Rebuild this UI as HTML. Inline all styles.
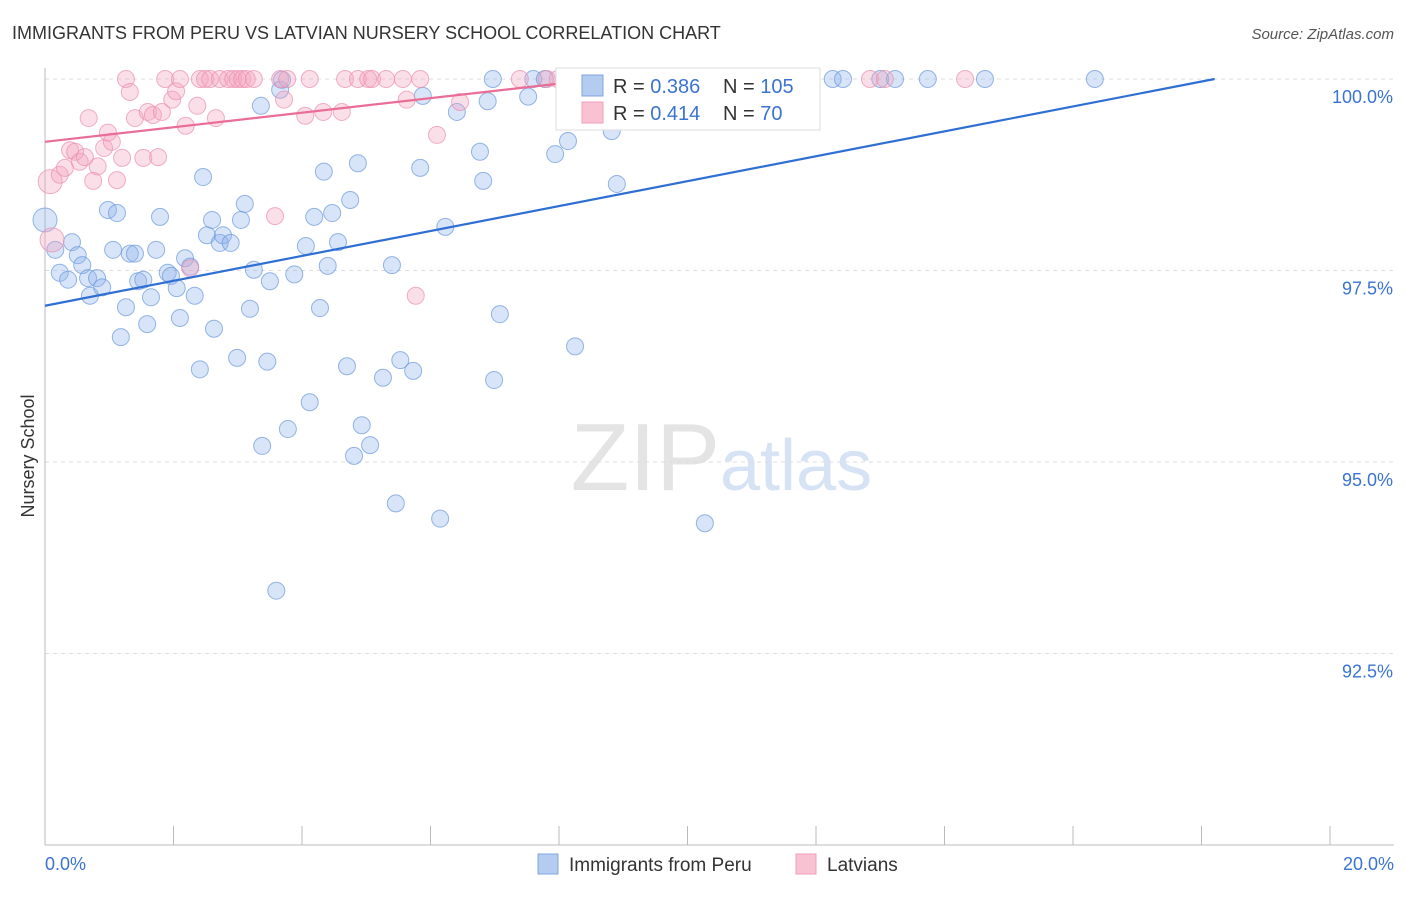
<!DOCTYPE html>
<html><head><meta charset="utf-8">
<style>
body{margin:0;background:#fff;font-family:"Liberation Sans",sans-serif;}
svg text{font-family:"Liberation Sans",sans-serif;}
</style></head>
<body>
<svg id="chart" width="1406" height="892" viewBox="0 0 1406 892">
<text x="12" y="39" font-size="18" fill="#333">IMMIGRANTS FROM PERU VS LATVIAN NURSERY SCHOOL CORRELATION CHART</text>
<text x="1394" y="39" font-size="15" fill="#555" font-style="italic" text-anchor="end">Source: ZipAtlas.com</text>
<text x="720" y="490" font-size="96" fill="#e4e4e4" text-anchor="end" font-family="Liberation Serif">ZIP</text>
<text x="720" y="490" font-size="72" fill="#d6e3f4">atlas</text>
<text transform="translate(34,456) rotate(-90)" font-size="18" fill="#333" text-anchor="middle">Nursery School</text>
<g id="grid"></g><g id="axes"></g><g id="marks"></g><g id="trend"></g>
<g>
<rect x="556" y="68" width="264" height="62" fill="#fff" stroke="#ddd"/>
<rect x="582" y="75" width="21" height="21" fill="#b4ccf0" stroke="#7fa6e0"/>
<rect x="582" y="102" width="21" height="21" fill="#f9c2d3" stroke="#eea0b8"/>
<text x="613" y="93" font-size="20" fill="#333">R = <tspan fill="#3a74d0">0.386</tspan></text>
<text x="723" y="93" font-size="20" fill="#333">N = <tspan fill="#3a74d0">105</tspan></text>
<text x="613" y="120" font-size="20" fill="#333">R = <tspan fill="#3a74d0">0.414</tspan></text>
<text x="723" y="120" font-size="20" fill="#333">N = <tspan fill="#3a74d0"> 70</tspan></text>
</g>
<g>
<rect x="538" y="854" width="20" height="20" fill="#b4ccf0" stroke="#7fa6e0"/>
<text x="569" y="871" font-size="19" fill="#333">Immigrants from Peru</text>
<rect x="796" y="854" width="20" height="20" fill="#f9c2d3" stroke="#eea0b8"/>
<text x="827" y="871" font-size="19" fill="#333">Latvians</text>
</g>
</svg>
<script>
const yTicks=[100,97.5,95,92.5];
const yTickLabels=["100.0%","97.5%","95.0%","92.5%"];
const xTickLabels=["0.0%","20.0%"];
const peruX=[0,0.16,0.23,0.36,0.42,0.51,0.58,0.67,0.70,0.81,0.89,0.98,1.06,1.12,1.18,1.26,1.32,1.40,1.45,1.53,1.59,1.65,1.73,1.79,1.91,1.96,2.05,2.10,2.18,2.26,2.33,2.41,2.46,2.52,2.60,2.63,2.72,2.77,2.89,2.99,3.05,3.11,3.19,3.25,3.36,3.38,3.46,3.50,3.60,3.66,3.69,3.78,3.88,4.06,4.12,4.19,4.28,4.34,4.40,4.47,4.56,4.70,4.75,4.81,4.87,4.93,5.06,5.26,5.40,5.46,5.53,5.73,5.84,5.88,6.15,6.23,6.41,6.77,6.82,6.89,6.97,6.99,7.08,7.52,7.60,7.78,7.94,8.14,8.25,8.82,8.90,9.54,10.27,10.89,11.32,12.26,12.42,13.00,13.23,13.74,14.63,16.34];
const peruY=[98.16,97.77,97.47,97.38,97.87,97.70,97.57,97.40,97.17,97.40,97.28,98.29,97.77,98.25,96.63,97.02,97.72,97.72,97.36,97.38,96.80,97.15,97.77,98.20,97.47,97.43,97.27,96.88,97.66,97.55,97.17,96.21,98.72,97.96,98.16,96.74,97.86,97.96,97.86,96.36,98.16,98.37,97.00,97.51,99.65,95.21,96.31,97.36,93.32,99.86,99.99,95.43,97.45,97.82,95.78,98.20,97.01,98.79,97.56,98.25,97.87,96.25,98.42,95.08,98.90,95.48,95.22,96.10,97.57,94.46,96.33,96.19,98.84,99.78,94.26,98.07,99.57,99.05,98.67,99.71,100,96.07,96.93,99.77,100,100,99.02,99.19,96.51,99.32,98.63,100,94.20,100,100,100,100,100,100,100,100,100];
const latX=[0.08,0.11,0.23,0.31,0.39,0.47,0.54,0.62,0.68,0.75,0.82,0.92,0.98,1.04,1.12,1.20,1.26,1.32,1.40,1.53,1.60,1.68,1.76,1.82,1.87,1.98,2.04,2.10,2.19,2.26,2.37,2.41,2.49,2.57,2.66,2.72,2.85,2.93,3.00,3.07,3.14,3.25,3.58,3.66,3.72,3.77,4.05,4.12,4.33,4.62,4.67,4.87,5.03,5.09,5.31,5.57,5.63,5.77,5.84,6.10,6.46,7.39,7.81,7.98,10.43,12.84,13.07,14.32];
const latY=[98.66,97.90,98.75,98.84,99.07,99.05,98.92,98.98,99.49,98.67,98.86,99.10,99.30,99.18,98.68,98.97,100,99.83,99.49,98.97,99.57,99.53,98.98,99.57,100,99.73,99.84,100,99.39,97.53,99.65,100,100,100,99.49,100,100,100,100,100,100,100,98.21,100,99.73,100,99.52,100,99.57,99.57,100,100,100,100,100,100,99.73,97.17,100,99.27,99.70,100,100,100,100,100,100,100];
const peruTrend=[97.04,0.1626];
const latTrend=[99.18,0.095];
const NS="http://www.w3.org/2000/svg";
const X0=45,X1=1330,Y100=79,PX25=191.5,YB=845;
const sx=v=>X0+(v/20)*(X1-X0);
const sy=v=>Y100+(100-v)/2.5*PX25;
function mk(t,a,p){const e=document.createElementNS(NS,t);for(const k in a)e.setAttribute(k,a[k]);p.appendChild(e);return e;}
const grid=document.getElementById('grid'),axes=document.getElementById('axes'),marks=document.getElementById('marks'),trend=document.getElementById('trend');
yTicks.forEach((t,i)=>{
 const l=mk('line',{x1:X0,x2:1394,y1:sy(t),y2:sy(t),stroke:'#ddd','stroke-dasharray':'4 4'},grid);
 
 
 const tx=mk('text',{x:1393,y:sy(t)+24,'font-size':18,fill:'#3a74d0','text-anchor':'end'},axes);
 tx.textContent=yTickLabels[i];
 
 
});
const ax=mk('line',{x1:X0,x2:X0,y1:68,y2:YB,stroke:'#bbb'},axes);


const bx=mk('line',{x1:X0,x2:1394,y1:YB,y2:YB,stroke:'#bbb'},axes);


for(let i=0;i<=10;i++){
 const t=mk('line',{x1:sx(i*2),x2:sx(i*2),y1:826,y2:YB,stroke:'#bbb'},axes);
 
 
}
[[0,'start',45],[20,'end',1394]].forEach((d,i)=>{
 const tx=mk('text',{x:d[2],y:870,'font-size':18,fill:'#3a74d0','text-anchor':d[1]},axes);
 tx.textContent=xTickLabels[i];
 
 
});
function pts(xs,ys,fill,stroke,name){
 xs.forEach((x,i)=>{
  const r=(x<0.12)?12:8.5;
  const c=mk('circle',{cx:sx(x),cy:sy(ys[i]),r:r,fill:fill,'fill-opacity':0.35,stroke:stroke,'stroke-opacity':0.7,'stroke-width':1},marks);
  
  
 });
}
pts(peruX,peruY,'#8fb3ea','#6b98dc','peru-point');
pts(latX,latY,'#f4a3bd','#eb8fae','latvian-point');
function tl(p,color,name){
 const xEnd=Math.min(20,(100-p[0])/p[1]);
 const l=mk('line',{x1:sx(0),y1:sy(p[0]),x2:sx(xEnd),y2:sy(p[0]+p[1]*xEnd),stroke:color,'stroke-width':2.2},trend);
 
 
}
tl(peruTrend,'#2f6fd4','peru-trend-line');
tl(latTrend,'#ea6d95','latvian-trend-line');
</script>
</body></html>
